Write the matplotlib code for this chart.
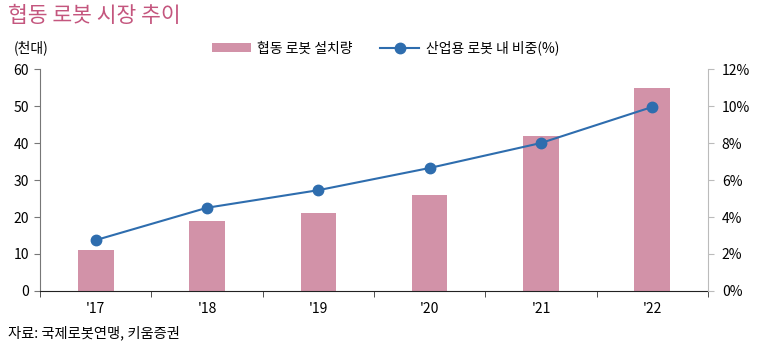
import numpy as np
import matplotlib
matplotlib.use("Agg")
import matplotlib.pyplot as plt
from matplotlib.ticker import FixedLocator, PercentFormatter

plt.rcParams['font.family'] = ['Noto Sans CJK KR', 'DejaVu Sans']

# data
years = ["'17", "'18", "'19", "'20", "'21", "'22"]
installs = [11, 19, 21, 26, 42, 55]          # 천대
share = [2.75, 4.5, 5.45, 6.65, 8.0, 9.95]   # %

bar_color = "#D292A8"
line_color = "#2E6DAE"
title_color = "#C4567E"

fig = plt.figure(figsize=(7.61, 3.48), dpi=100)
ax = fig.add_axes([0.0526, 0.1638, 0.8777, 0.6379])
x = np.arange(len(years))

ax.bar(x, installs, width=0.32, color=bar_color, label="협동 로봇 설치량", zorder=2)
ax.set_ylim(0, 60)
ax.set_xlim(-0.5, len(years) - 0.5)
ax.set_yticks(range(0, 61, 10))
ax.set_xticks(x)
ax.set_xticklabels(years)
ax.xaxis.set_minor_locator(FixedLocator(np.arange(-0.5, len(years), 1)))
ax.tick_params(axis='x', which='major', length=0, pad=8, labelsize=10)
ax.tick_params(axis='x', which='minor', length=4, direction='out', color='#333333')
ax.tick_params(axis='y', length=4, direction='out', color='#777777', labelsize=10, pad=4)

for s in ['top', 'right']:
    ax.spines[s].set_visible(False)
ax.spines['left'].set_color('#777777')
ax.spines['bottom'].set_color('#222222')
ax.spines['bottom'].set_zorder(3)

ax2 = ax.twinx()
ax2.plot(x, share, color=line_color, lw=1.5, marker='o', markersize=7.5,
         label="산업용 로봇 내 비중(%)", zorder=3)
ax2.set_ylim(0, 12)
ax2.set_yticks(range(0, 13, 2))
ax2.yaxis.set_major_formatter(PercentFormatter(decimals=0))
ax2.tick_params(axis='y', length=4, direction='out', color='#BBBBBB', labelsize=10, pad=6)
for s in ['top', 'left', 'bottom']:
    ax2.spines[s].set_visible(False)
ax2.spines['right'].set_color('#BBBBBB')

h1, l1 = ax.get_legend_handles_labels()
h2, l2 = ax2.get_legend_handles_labels()
fig.legend(h1 + h2, l1 + l2, loc='center', bbox_to_anchor=(0.5066, 0.862), ncol=2,
           frameon=False, fontsize=10, handlelength=2.8, handleheight=0.55,
           columnspacing=2.0, handletextpad=0.45)

fig.text(0.01, 0.955, "협동 로봇 시장 추이", color=title_color, fontsize=15.5, va='center', ha='left')
fig.text(0.018, 0.862, "(천대)", fontsize=10, va='center', ha='left')
fig.text(0.01, 0.042, "자료: 국제로봇연맹, 키움증권", fontsize=10.3, va='center', ha='left')

fig.savefig("out.png", dpi=100)
